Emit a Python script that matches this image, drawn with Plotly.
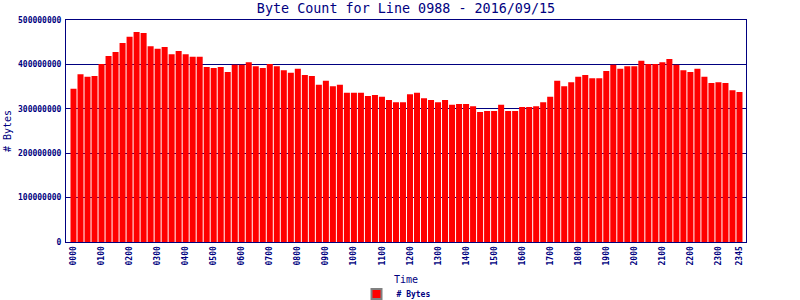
import plotly.graph_objects as go

# 15-minute time slots
times = [f"{h:02d}{m:02d}" for h in range(24) for m in (0, 15, 30, 45)]

# byte counts in millions
bytes_millions = [345, 378, 372, 374, 401, 419, 428, 448, 462, 473,
                  471, 441, 435, 439, 423, 430, 423, 417, 417, 394,
                  392, 394, 383, 399, 399, 405, 396, 392, 401, 396,
                  387, 381, 390, 376, 374, 354, 363, 351, 354, 336,
                  336, 336, 329, 331, 327, 320, 315, 315, 333, 336,
                  324, 320, 315, 320, 309, 311, 311, 306, 293, 295,
                  295, 309, 295, 295, 304, 304, 306, 315, 327, 363,
                  351, 360, 372, 376, 369, 369, 385, 399, 390, 396,
                  396, 408, 401, 401, 405, 412, 399, 387, 383, 390,
                  372, 358, 360, 358, 342, 338]

x_tick_labels = ["0000", "0100", "0200", "0300", "0400", "0500", "0600", "0700",
                 "0800", "0900", "1000", "1100", "1200", "1300", "1400", "1500",
                 "1600", "1700", "1800", "1900", "2000", "2100", "2200", "2300", "2345"]
y_tick_values = [0, 100000000, 200000000, 300000000, 400000000, 500000000]

NAVY = "#000080"
MONO = "DejaVu Sans Mono"

fig = go.Figure()
fig.add_trace(go.Bar(
    x=times, y=[v * 1e6 for v in bytes_millions],
    marker=dict(color="#FF0000", line=dict(width=0)),
    name="# Bytes", showlegend=False,
))
# legend-only entry
fig.add_trace(go.Scatter(
    x=[None], y=[None], mode="markers", name="# Bytes",
    marker=dict(symbol="square", size=10, color="#FF0000",
                line=dict(color="#808080", width=2)),
))

fig.update_layout(
    width=800, height=300,
    margin=dict(l=66, r=54, t=20, b=58, autoexpand=False),
    paper_bgcolor="white", plot_bgcolor="white",
    bargap=0.14,
    title=dict(text="Byte Count for Line 0988 - 2016/09/15",
               x=0.5, xref="paper", xanchor="center",
               y=0.973, yref="container", yanchor="middle",
               font=dict(family=MONO, size=13.4, color=NAVY)),
    legend=dict(orientation="h", x=0.4853, xanchor="center",
                y=-0.234, yanchor="middle", itemwidth=30,
                font=dict(family=MONO, size=8, color=NAVY, weight="bold"),
                bgcolor="rgba(0,0,0,0)"),
    font=dict(family=MONO, color=NAVY),
)

fig.update_xaxes(
    type="category", categoryorder="array", categoryarray=times,
    range=[-1.07, 95.93],
    tickmode="array", tickvals=x_tick_labels, ticktext=x_tick_labels,
    tickangle=-90, ticks="",
    tickfont=dict(family=MONO, size=8, color=NAVY, weight="bold"),
    showline=True, linecolor=NAVY, linewidth=1, mirror=True,
    showgrid=False, zeroline=False,
    title=dict(text="Time", font=dict(family=MONO, size=10, color=NAVY), standoff=11),
    automargin=False,
)
fig.update_yaxes(
    range=[0, 500000000],
    tickmode="array", tickvals=y_tick_values, tickformat="d",
    ticks="", ticklabelstandoff=2,
    tickfont=dict(family=MONO, size=8, color=NAVY, weight="bold"),
    showline=True, linecolor=NAVY, linewidth=1, mirror=True,
    showgrid=True, gridcolor=NAVY, gridwidth=1,
    zeroline=False,
    title=dict(text="# Bytes", font=dict(family=MONO, size=10, color=NAVY), standoff=4),
    automargin=False,
)

fig.write_html("out.html")
